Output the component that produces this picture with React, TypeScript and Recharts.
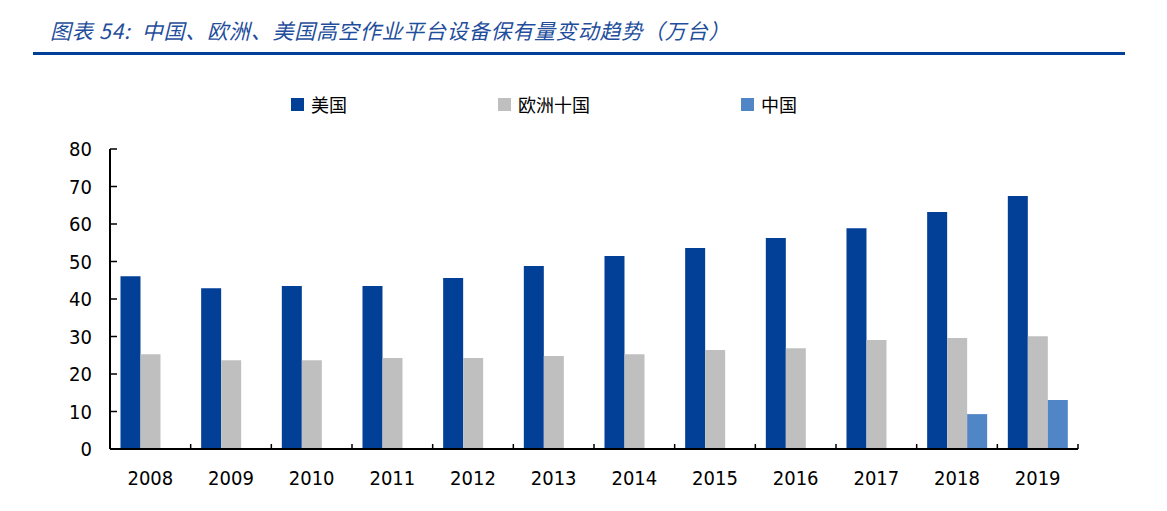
import React from 'react';
import { BarChart, Bar, XAxis, YAxis } from 'recharts';

const years = ['2008', '2009', '2010', '2011', '2012', '2013', '2014', '2015', '2016', '2017', '2018', '2019'];
const usa = [46.1, 42.9, 43.5, 43.5, 45.6, 48.8, 51.5, 53.6, 56.3, 58.9, 63.2, 67.5];
const europe = [25.3, 23.7, 23.7, 24.3, 24.3, 24.8, 25.3, 26.4, 26.9, 29.1, 29.6, 30.1];
const china: (number | null)[] = [null, null, null, null, null, null, null, null, null, null, 9.3, 13.1];
const yTicks = [0, 10, 20, 30, 40, 50, 60, 70, 80];
const seriesKeys = ['usa', 'europe', 'china'];
const seriesNames = ['美国', '欧洲十国', '中国'];
const seriesColors = ['#023F97', '#BFBFBF', '#5085C6'];
const titleText = '图表 54:  中国、欧洲、美国高空作业平台设备保有量变动趋势（万台）';

const data = years.map((y, i) => ({ year: y, usa: usa[i], europe: europe[i], china: china[i] }));

const numFont = '"DejaVu Sans Condensed", "DejaVu Sans", sans-serif';
const cjkFont = '"Noto Sans CJK SC", sans-serif';

const XTick = (props: any) => {
  const { x, y, payload, width, visibleTicksCount } = props;
  const off = payload && payload.offset ? payload.offset : width / (visibleTicksCount || 12) / 2;
  return (
    <g>
      <line x1={x + off} x2={x + off} y1={y} y2={y - 5} stroke="#000" strokeWidth={1.5} />
      <text x={x} y={y} dy={36} textAnchor="middle" fontFamily={numFont} fontSize={20} fill="#000">
        {payload.value}
      </text>
    </g>
  );
};

const legendLeft = [291, 498, 741];

export default function App() {
  return (
    <div style={{ position: 'absolute', left: 0, top: 0, width: 1167, height: 511, background: '#fff' }}>
      <div
        style={{
          position: 'absolute',
          left: 50,
          top: 16,
          fontFamily: cjkFont,
          fontStyle: 'italic',
          fontSize: 21,
          letterSpacing: 0.8,
          color: '#1F4E9C',
          whiteSpace: 'pre',
          lineHeight: '28px',
        }}
      >
        {titleText}
      </div>
      <div style={{ position: 'absolute', left: 33, top: 52, width: 1092, height: 2.5, background: '#003F98' }} />
      {seriesNames.map((n, i) => (
        <div
          key={n}
          style={{
            position: 'absolute',
            left: legendLeft[i],
            top: 92,
            height: 24,
            display: 'flex',
            alignItems: 'center',
            fontFamily: cjkFont,
            fontSize: 18,
            color: '#000',
          }}
        >
          <span style={{ display: 'inline-block', width: 13, height: 13, background: seriesColors[i], marginRight: 7 }} />
          <span>{n}</span>
        </div>
      ))}
      <BarChart
        width={1167}
        height={511}
        data={data}
        margin={{ top: 149, right: 89, bottom: 22, left: 0 }}
        barCategoryGap="13%"
        barGap={0}
      >
        <XAxis
          dataKey="year"
          height={40}
          axisLine={{ stroke: '#000', strokeWidth: 2 }}
          tickLine={false}
          tickSize={0}
          tickMargin={0}
          tick={<XTick />}
          interval={0}
        />
        <YAxis
          width={110}
          domain={[0, 80]}
          ticks={yTicks}
          interval={0}
          axisLine={{ stroke: '#000', strokeWidth: 2 }}
          tickLine={{ stroke: '#000', strokeWidth: 1.5 }}
          tickSize={-7}
          tickMargin={25}
          tick={{ fontFamily: numFont, fontSize: 20, fill: '#000' }}
        />
        {seriesKeys.map((k, i) => (
          <Bar key={k} dataKey={k} name={seriesNames[i]} fill={seriesColors[i]} isAnimationActive={false} />
        ))}
      </BarChart>
    </div>
  );
}
